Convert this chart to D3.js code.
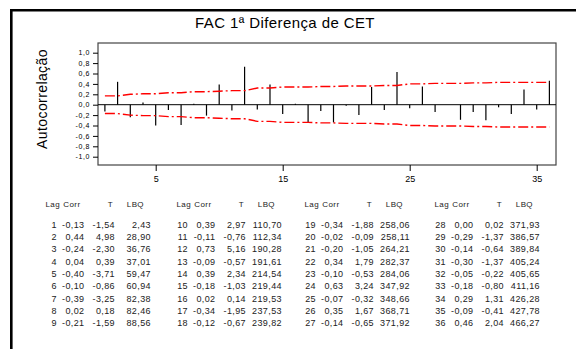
<!DOCTYPE html>
<html>
<head>
<meta charset="utf-8">
<script src="https://cdn.jsdelivr.net/npm/d3@7"></script>
<style>
  body { margin: 0; background: #fff; }
  svg { display: block; font-family: "Liberation Sans", Arial, sans-serif; }
</style>
</head>
<body>
<svg id="chart" width="576" height="349"></svg>
<script>
const lags = d3.range(1, 37);
const corr = [-0.13, 0.44, -0.24, 0.04, -0.40, -0.10, -0.39, 0.02, -0.21,
  0.39, -0.11, 0.73, -0.09, 0.39, -0.18, 0.02, -0.34, -0.12,
  -0.34, -0.02, -0.20, 0.34, -0.10, 0.63, -0.07, 0.35, -0.14,
  0.00, -0.29, -0.14, -0.30, -0.05, -0.18, 0.29, -0.09, 0.46];
const tStat = [-1.54, 4.98, -2.30, 0.39, -3.71, -0.86, -3.25, 0.18, -1.59,
  2.97, -0.76, 5.16, -0.57, 2.34, -1.03, 0.14, -1.95, -0.67,
  -1.88, -0.09, -1.05, 1.79, -0.53, 3.24, -0.32, 1.67, -0.65,
  0.02, -1.37, -0.64, -1.37, -0.22, -0.80, 1.31, -0.41, 2.04];
const lbq = [2.43, 28.90, 36.76, 37.01, 59.47, 60.94, 82.38, 82.46, 88.56,
  110.70, 112.34, 190.28, 191.61, 214.54, 219.44, 219.53, 237.53, 239.82,
  258.06, 258.11, 264.21, 282.37, 284.06, 347.92, 348.66, 368.71, 371.92,
  371.93, 386.57, 389.84, 405.24, 405.65, 411.16, 426.28, 427.78, 466.27];
// upper confidence limit at each lag (lower one is the negative)
const limits = [0.17, 0.17, 0.20, 0.21, 0.21, 0.23, 0.23, 0.25, 0.25,
  0.26, 0.27, 0.27, 0.32, 0.32, 0.34, 0.34, 0.34, 0.35,
  0.35, 0.36, 0.36, 0.36, 0.37, 0.37, 0.40, 0.40, 0.41,
  0.41, 0.41, 0.42, 0.42, 0.43, 0.43, 0.43, 0.43, 0.43];
const xTicks = [5, 15, 25, 35];
const yTicks = d3.range(-1, 1.01, 0.2);
const headers = ["Lag", "Corr", "T", "LBQ"];

const svg = d3.select('#chart');
const loc = d3.formatLocale({ decimal: ",", thousands: ".", grouping: [3], currency: ["", ""], minus: "-" });
const f1 = loc.format(".1f"), f2 = loc.format(".2f");

// outer frame (only top/left visible)
svg.append('path')
  .attr('d', 'M11.3,349 V10.2 H576')
  .attr('fill', 'none').attr('stroke', '#000').attr('stroke-width', 2.6);

svg.append('text')
  .attr('x', 285).attr('y', 28)
  .attr('text-anchor', 'middle')
  .style('font-size', '15px').style('letter-spacing', '0.4px')
  .text('FAC 1ª Diferença de CET');

// plot box
const pLeft = 98, pRight = 556, pTop = 43, pBottom = 165;
const x = d3.scaleLinear().domain([0.457, 36.52]).range([pLeft, pRight]);
const y = d3.scaleLinear().domain([-1, 1]).range([156.7, 52.7]);

svg.append('rect')
  .attr('x', pLeft).attr('y', pTop)
  .attr('width', pRight - pLeft).attr('height', pBottom - pTop)
  .attr('fill', 'none').attr('stroke', '#444').attr('stroke-width', 1.2);

const yAxis = svg.append('g')
  .attr('transform', 'translate(' + pLeft + ',0)')
  .call(d3.axisLeft(y).tickValues(yTicks).tickSize(5).tickPadding(3).tickFormat(f1));
yAxis.select('.domain').remove();
yAxis.selectAll('text').style('font-size', '7px').style('letter-spacing', '0.6px');

const xAxis = svg.append('g')
  .attr('transform', 'translate(0,' + pBottom + ')')
  .call(d3.axisBottom(x).tickValues(xTicks).tickSize(6).tickPadding(5).tickFormat(d3.format('d')));
xAxis.select('.domain').remove();
xAxis.selectAll('text').style('font-size', '9px');

svg.append('text')
  .attr('transform', 'translate(47,99) rotate(-90)')
  .attr('text-anchor', 'middle')
  .style('font-size', '14px').style('letter-spacing', '0.4px')
  .text('Autocorrelação');

// zero line
svg.append('line')
  .attr('x1', pLeft).attr('x2', pRight)
  .attr('y1', y(0)).attr('y2', y(0))
  .attr('stroke', '#000').attr('stroke-width', 1);

// spikes
svg.selectAll('line.spike')
  .data(lags)
  .enter()
  .append('line')
  .attr('class', 'spike')
  .attr('x1', d => x(d)).attr('x2', d => x(d))
  .attr('y1', y(0)).attr('y2', (d, i) => y(corr[i]))
  .attr('stroke', '#000').attr('stroke-width', 1.2);

// confidence limits
const limLine = d3.line().x((d, i) => x(lags[i]));
[1, -1].forEach(function (s) {
  svg.append('path')
    .datum(limits)
    .attr('d', limLine.y(d => y(s * d)))
    .attr('fill', 'none')
    .attr('stroke', '#f00').attr('stroke-width', 1.4)
    .attr('stroke-dasharray', '10,3,2,3');
});

// table of values
const blockX = [57, 188, 316, 446];
const colOff = [0, 27.5, 58, 94];
const headOff = [3, -4, -2, -7];
const table = svg.append('g').style('font-size', '9px').style('fill', '#222');
blockX.forEach(function (bx, b) {
  headers.forEach(function (h, c) {
    table.append('text')
      .attr('x', bx + colOff[c] + headOff[c]).attr('y', 206.5)
      .attr('text-anchor', 'end')
      .style('font-size', '8px').style('letter-spacing', '0.4px')
      .text(h);
  });
  for (let r = 0; r < 9; r++) {
    const i = b * 9 + r;
    const vals = [lags[i], f2(corr[i]), f2(tStat[i]), f2(lbq[i])];
    vals.forEach(function (v, c) {
      table.append('text')
        .attr('x', bx + colOff[c]).attr('y', 227.5 + r * 12.35)
        .attr('text-anchor', 'end')
        .style('letter-spacing', '0.4px')
        .text(v);
    });
  }
});
</script>
</body>
</html>
